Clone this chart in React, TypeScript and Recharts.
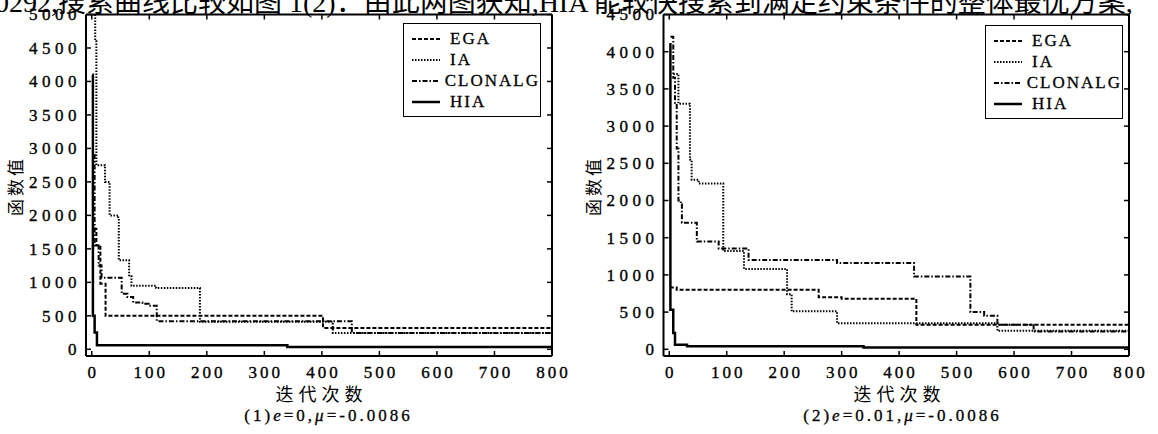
import React from "react";
import { LineChart, Line, XAxis, YAxis } from "recharts";

type Pt = { x: number; y: number };

const xTicks = [0, 100, 200, 300, 400, 500, 600, 700, 800];
const yTicksLeft = [0, 500, 1000, 1500, 2000, 2500, 3000, 3500, 4000, 4500, 5000];
const yTicksRight = [0, 500, 1000, 1500, 2000, 2500, 3000, 3500, 4000, 4500];

const seriesNames = ["EGA", "IA", "CLONALG", "HIA"];

// (1) e=0
const egaLeft: Pt[] = [
  { x: 3, y: 1800 }, { x: 8, y: 1550 }, { x: 15, y: 980 }, { x: 24, y: 500 },
  { x: 402, y: 320 }, { x: 800, y: 320 },
];
const iaLeft: Pt[] = [
  { x: 1, y: 5000 }, { x: 6, y: 4600 }, { x: 8, y: 2750 }, { x: 23, y: 2500 },
  { x: 31, y: 2000 }, { x: 46, y: 1950 }, { x: 47, y: 1330 }, { x: 65, y: 1090 },
  { x: 69, y: 950 }, { x: 112, y: 915 }, { x: 188, y: 410 }, { x: 419, y: 245 },
  { x: 800, y: 245 },
];
const clonalgLeft: Pt[] = [
  { x: 3, y: 2900 }, { x: 5, y: 1550 }, { x: 12, y: 1250 }, { x: 17, y: 1070 },
  { x: 52, y: 830 }, { x: 62, y: 780 }, { x: 72, y: 700 }, { x: 88, y: 680 },
  { x: 99, y: 650 }, { x: 113, y: 420 }, { x: 452, y: 245 }, { x: 800, y: 245 },
];
const hiaLeft: Pt[] = [
  { x: 1, y: 4100 }, { x: 2, y: 500 }, { x: 5, y: 250 }, { x: 9, y: 60 },
  { x: 340, y: 35 }, { x: 800, y: 35 },
];

// (2) e=0.01
const egaRight: Pt[] = [
  { x: 1, y: 830 }, { x: 13, y: 800 }, { x: 260, y: 700 }, { x: 300, y: 680 },
  { x: 430, y: 330 }, { x: 800, y: 330 },
];
const iaRight: Pt[] = [
  { x: 7, y: 3700 }, { x: 16, y: 3300 }, { x: 36, y: 2550 }, { x: 39, y: 2280 },
  { x: 51, y: 2230 }, { x: 94, y: 1320 }, { x: 130, y: 1080 }, { x: 205, y: 740 },
  { x: 213, y: 510 }, { x: 292, y: 350 }, { x: 571, y: 250 }, { x: 800, y: 250 },
];
const clonalgRight: Pt[] = [
  { x: 2, y: 4200 }, { x: 7, y: 3650 }, { x: 10, y: 3300 }, { x: 13, y: 2700 },
  { x: 16, y: 2000 }, { x: 20, y: 1950 }, { x: 22, y: 1700 }, { x: 48, y: 1450 },
  { x: 86, y: 1355 }, { x: 138, y: 1200 }, { x: 292, y: 1160 }, { x: 426, y: 980 },
  { x: 524, y: 500 }, { x: 548, y: 450 }, { x: 571, y: 330 }, { x: 634, y: 240 },
  { x: 800, y: 240 },
];
const hiaRight: Pt[] = [
  { x: 0, y: 4100 }, { x: 2, y: 530 }, { x: 7, y: 220 }, { x: 10, y: 60 },
  { x: 31, y: 40 }, { x: 338, y: 25 }, { x: 800, y: 25 },
];

const dashes: Record<string, string | undefined> = {
  EGA: "4 2",
  IA: "1.5 1.5",
  CLONALG: "5 2 1.5 2",
  HIA: undefined,
};
const widths: Record<string, number> = { EGA: 2, IA: 2, CLONALG: 2, HIA: 2.5 };

const serif = '"Liberation Serif", "Times New Roman", "Noto Sans CJK SC", serif';
const cjk = '"Noto Sans CJK SC", sans-serif';

const TICK = 5;
const labelStyle = {
  fontFamily: serif, fontSize: 17, fill: "#000", stroke: "#000", strokeWidth: 0.35,
};

// inward tick marks drawn with the labels (tickSize 0 puts x/y on the axis line)
const LeftTick = (p: any) => (
  <g>
    <line x1={p.x + 5} x2={p.x + 5 + TICK} y1={p.y} y2={p.y} stroke="#000" strokeWidth={1.5} />
    <text x={p.x} y={p.y} dy="0.35em" textAnchor="end" style={{ ...labelStyle, letterSpacing: 4.5 }}>
      {p.payload.value}
    </text>
  </g>
);
const RightTick = (p: any) => (
  <line x1={p.x - TICK} x2={p.x} y1={p.y} y2={p.y} stroke="#000" strokeWidth={1.5} />
);
const BottomTick = (p: any) => (
  <g>
    <line x1={p.x} x2={p.x} y1={p.y - TICK} y2={p.y} stroke="#000" strokeWidth={1.5} />
    <text x={p.x + 1.5} y={p.y + 10} dy="0.71em" textAnchor="middle" style={{ ...labelStyle, letterSpacing: 3 }}>
      {p.payload.value}
    </text>
  </g>
);
const TopTick = (p: any) => (
  <line x1={p.x} x2={p.x} y1={p.y} y2={p.y + TICK} stroke="#000" strokeWidth={1.5} />
);

function LegendBox({ left, top }: { left: number; top: number }) {
  return (
    <div
      style={{
        position: "absolute", left, top, width: 136, height: 88,
        border: "1.5px solid #000", background: "#fff", paddingTop: 4,
      }}
    >
      {seriesNames.map((n) => (
        <div key={n} style={{ display: "flex", alignItems: "center", height: 21 }}>
          <svg width={46} height={21}>
            <line x1={8} x2={36} y1={11} y2={11} stroke="#000"
              strokeWidth={widths[n]} strokeDasharray={dashes[n]} />
          </svg>
          <span style={{
            fontFamily: serif, fontSize: 17, letterSpacing: 2, lineHeight: "21px",
            WebkitTextStroke: "0.3px #000",
          }}>{n}</span>
        </div>
      ))}
    </div>
  );
}

type PanelProps = {
  left: number;
  width: number;
  marginLeft: number;
  marginRight: number;
  yMin: number;
  yMax: number;
  yTicks: number[];
  data: Pt[][];
};

function Panel({ left, width, marginLeft, marginRight, yMin, yMax, yTicks, data }: PanelProps) {
  const axisLine = { stroke: "#000", strokeWidth: 2 };
  return (
    <div style={{ position: "absolute", left, top: 0 }}>
      <LineChart width={width} height={386}
        margin={{ top: 13.5, right: marginRight, bottom: 0, left: marginLeft }}>
        <XAxis xAxisId="b" dataKey="x" type="number" domain={[-10, 800]} ticks={xTicks}
          allowDataOverflow height={30} axisLine={axisLine} tickLine={false}
          tickSize={0} tickMargin={0} tick={BottomTick} interval={0} />
        <XAxis xAxisId="t" orientation="top" dataKey="x" type="number" domain={[-10, 800]}
          ticks={xTicks} allowDataOverflow height={1} axisLine={axisLine} tickLine={false}
          tickSize={0} tickMargin={0} tick={TopTick} interval={0} />
        <YAxis yAxisId="l" type="number" domain={[yMin, yMax]} ticks={yTicks} allowDataOverflow
          width={60} axisLine={axisLine} tickLine={false} tickSize={0} tickMargin={5}
          tick={LeftTick} interval={0} />
        <YAxis yAxisId="r" orientation="right" type="number" domain={[yMin, yMax]} ticks={yTicks}
          allowDataOverflow width={1} axisLine={axisLine} tickLine={false} tickSize={0}
          tickMargin={0} tick={RightTick} interval={0} />
        {seriesNames.map((n, i) => (
          <Line key={n} xAxisId="b" yAxisId="l" data={data[i]} dataKey="y" type="stepAfter"
            stroke="#000" strokeWidth={widths[n]} strokeDasharray={dashes[n]}
            dot={false} isAnimationActive={false} />
        ))}
      </LineChart>
    </div>
  );
}

function YTitle({ x }: { x: number }) {
  return (
    <div style={{
      position: "absolute", left: x - 40, top: 186 - 12, width: 80, height: 24,
      textAlign: "center", transform: "rotate(-90deg)", fontFamily: cjk, fontSize: 17,
      letterSpacing: 3, lineHeight: "24px",
    }}>函数值</div>
  );
}

function XTitle({ cx }: { cx: number }) {
  return (
    <div style={{
      position: "absolute", left: cx - 60, top: 384, width: 120, textAlign: "center",
      fontFamily: cjk, fontSize: 18, letterSpacing: 5, lineHeight: "18px",
      paddingLeft: 5, boxSizing: "border-box",
    }}>迭代次数</div>
  );
}

function Caption({ cx, idx, e }: { cx: number; idx: string; e: string }) {
  return (
    <div style={{
      position: "absolute", left: cx - 120, top: 406, width: 240, textAlign: "center",
      fontFamily: serif, fontSize: 17, letterSpacing: 3, lineHeight: "20px",
      WebkitTextStroke: "0.3px #000", paddingLeft: 3, boxSizing: "border-box",
    }}>
      ({idx})<i>e</i>={e},<i>μ</i>=-0.0086
    </div>
  );
}

export default function App() {
  return (
    <div style={{
      position: "absolute", left: 0, top: 0, width: 1158, height: 434,
      overflow: "hidden", background: "#fff",
    }}>
      <div style={{
        position: "absolute", left: -5, top: -12, whiteSpace: "nowrap",
        fontFamily: serif, fontSize: 28, lineHeight: "30px", letterSpacing: 0,
      }}>
        0292,搜索曲线比较如图 1(2)：由此两图获知,HIA 能较快搜索到满足约束条件的整体最优方案,
      </div>
      <Panel left={0} width={580} marginLeft={26} marginRight={27} yMin={-100} yMax={5000}
        yTicks={yTicksLeft} data={[egaLeft, iaLeft, clonalgLeft, hiaLeft]} />
      <Panel left={580} width={578} marginLeft={23.5} marginRight={28} yMin={-90} yMax={4500}
        yTicks={yTicksRight} data={[egaRight, iaRight, clonalgRight, hiaRight]} />
      <LegendBox left={403} top={23} />
      <LegendBox left={985} top={25} />
      <YTitle x={15} />
      <YTitle x={593} />
      <XTitle cx={319} />
      <XTitle cx={897} />
      <Caption cx={327} idx="1" e="0" />
      <Caption cx={901} idx="2" e="0.01" />
    </div>
  );
}
